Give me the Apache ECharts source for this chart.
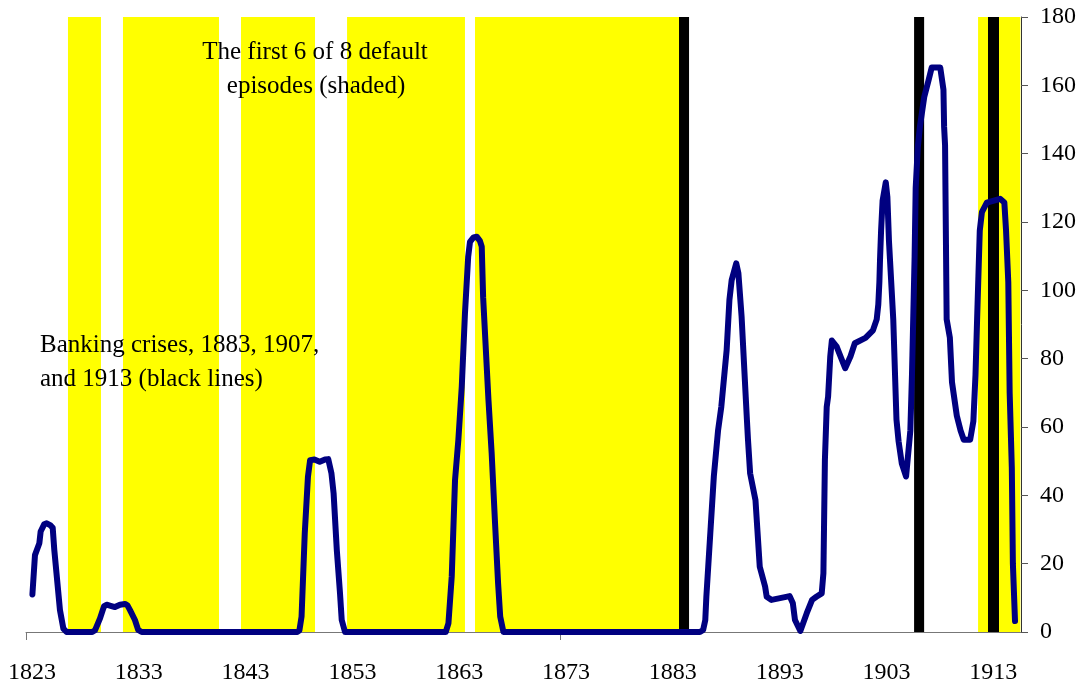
<!DOCTYPE html>
<html>
<head>
<meta charset="utf-8">
<script src="https://cdn.jsdelivr.net/npm/echarts@6/dist/echarts.min.js"></script>
<style>
html,body{margin:0;padding:0;background:#fff;}
#chart{width:1083px;height:688px;}
</style>
</head>
<body>
<div id="chart"></div>
<script>
// ---- Data ----
const xTickLabels = [1823, 1833, 1843, 1853, 1863, 1873, 1883, 1893, 1903, 1913];
const yTickValues = [0, 20, 40, 60, 80, 100, 120, 140, 160, 180];

// Default episodes (shaded yellow): start / end year
const defaultStart = [1826.93, 1832.08, 1843.13, 1853.06, 1865.04, 1912.14];
const defaultEnd   = [1830.02, 1841.07, 1850.06, 1864.10, 1884.14, 1916.10];

// Banking crises (black bars): start / end year
const crisisStart = [1884.14, 1906.15, 1913.07];
const crisisEnd   = [1885.08, 1907.09, 1914.10];

// Line series: years and values
const seriesYears = [
  1823.60,1823.84,1824.25,1824.37,1824.70,1824.94,1825.30,1825.50,1825.65,1826.18,1826.50,1826.80,
  1829.20,1829.46,1829.93,1830.30,1830.55,1831.00,1831.33,1831.80,1832.27,1832.50,1832.74,1833.20,1833.50,1833.83,
  1848.40,1848.60,1848.80,1849.10,1849.40,1849.60,1850.00,1850.50,1851.00,1851.30,1851.60,1851.80,1852.10,1852.40,1852.56,1852.87,
  1862.30,1862.55,1862.86,1863.17,1863.48,1863.80,1864.10,1864.40,1864.57,1864.90,1865.20,1865.50,1865.67,1865.80,1866.30,1866.60,1866.90,1867.20,1867.40,1867.70,
  1886.10,1886.40,1886.60,1886.70,1887.40,1887.80,1888.10,1888.60,1888.86,1889.07,1889.50,1889.70,1890.00,1890.50,1890.60,1890.80,1891.30,1891.70,1892.20,1892.35,1892.80,1893.60,1894.50,1894.80,1895.00,1895.50,
  1896.10,1896.60,1897.00,1897.50,1897.66,1897.80,1897.97,1898.10,1898.30,1898.45,1898.90,1899.70,1900.20,1900.60,1901.60,1902.30,1902.65,1902.80,1902.90,1902.96,1903.06,1903.20,1903.50,1903.65,1903.80,1904.20,1904.50,1904.70,1905.00,1905.40,
  1905.80,1905.95,1906.20,1906.30,1906.50,1906.70,1907.10,1907.50,1907.80,1908.60,1908.90,1908.96,1909.05,1909.20,1909.50,1909.70,1910.15,1910.50,1910.80,1911.40,1911.70,1911.90,1912.05,1912.30,1912.50,1912.96,
  1914.20,1914.60,1914.76,1914.97,1915.10,1915.30,1915.40,1915.60
];
const seriesValues = [
  11,22.5,26,29.4,31.5,31.8,31.2,30.5,24,6.4,1,0,
  0,0.5,4,7.5,8,7.6,7.3,8,8.2,7.8,6.4,3.5,0.6,0,
  0,0.5,4.5,28.9,45.5,50.3,50.5,49.8,50.5,50.6,46.4,40.6,24,11.3,3.5,0,
  0,2.5,16.2,44.5,56.2,71.8,93.3,109.8,114.2,115.5,115.7,114.5,112.8,98,67.9,52.3,32.8,14.3,4.5,0,
  0,0.6,3.5,10.3,45.5,59.1,65.9,82.5,97.2,103,107.9,105,92.3,62,56.2,46.4,38.6,19.1,13.3,10.3,9.4,9.9,10.5,8.4,3.5,0.3,
  5.5,9.4,10.3,11.3,17.2,50.3,65.9,68.9,80.6,85.3,83.5,77.2,80.7,84.5,86.1,88.3,91.5,95.9,102.4,108.9,117.5,126.2,131.6,127.3,114.3,91.5,62.2,55.8,49.3,45.5,
  59,75,110,130,142,148,156.6,161.4,165.2,165.2,158.7,147.9,142.5,91.5,86.1,73.1,63.3,59,56.3,56.3,61.7,75.3,91.5,117.5,122.9,125.7,
  126.8,125.7,117.5,102.4,69.9,48.2,20,3.2
];

const X_MIN = 1823, X_MAX = 1916.16, Y_MIN = 0, Y_MAX = 180;
const FONT = "'Liberation Serif', 'Times New Roman', serif";

const lineData = seriesYears.map((y, i) => [y, seriesValues[i]]);
const defaultData = defaultStart.map((s, i) => [s, defaultEnd[i]]);
const crisisData = crisisStart.map((s, i) => [s, crisisEnd[i]]);

function bandRenderer(color) {
  return function (params, api) {
    const a = api.coord([api.value(0), Y_MAX]);
    const b = api.coord([api.value(1), Y_MIN]);
    return {
      type: 'rect',
      shape: { x: a[0], y: a[1], width: b[0] - a[0], height: b[1] - a[1] },
      style: { fill: color }
    };
  };
}

const chart = echarts.init(document.getElementById('chart'), null, { renderer: 'canvas' });
chart.setOption({
  animation: false,
  backgroundColor: '#ffffff',
  grid: { left: 26, right: 62, top: 17, bottom: 56, containLabel: false },
  xAxis: [{
    type: 'value', min: X_MIN, max: X_MAX, position: 'bottom',
    axisLine: { show: true, onZero: false, lineStyle: { color: '#777777', width: 1 } },
    axisTick: { show: true, customValues: [1823, 1873], length: 8, lineStyle: { color: '#777777' } },
    axisLabel: {
      customValues: xTickLabels, color: '#000', fontFamily: FONT, fontSize: 24, margin: 29,
      padding: [0, 0, 0, 12],
      formatter: v => String(Math.round(v))
    },
    splitLine: { show: false }
  }],
  yAxis: [{
    type: 'value', min: Y_MIN, max: Y_MAX, interval: 20, position: 'right',
    axisLine: { show: true, lineStyle: { color: '#333333', width: 1 } },
    axisTick: { show: true, length: 7, inside: false, lineStyle: { color: '#555555' } },
    axisLabel: { color: '#000', fontFamily: FONT, fontSize: 24, margin: 19, formatter: v => String(v) },
    splitLine: { show: false }
  }],
  series: [
    { type: 'custom', name: 'defaults', data: defaultData, encode: { x: [0, 1] }, renderItem: bandRenderer('#FFFF00'), z: 1, silent: true, clip: true },
    { type: 'custom', name: 'crises', data: crisisData, encode: { x: [0, 1] }, renderItem: bandRenderer('#000000'), z: 2, silent: true, clip: true },
    {
      type: 'line', name: 'index', data: lineData, showSymbol: false, symbol: 'none', z: 3,
      lineStyle: { color: '#000080', width: 6, cap: 'round', join: 'round' },
      clip: false
    }
  ],
  graphic: [
    { type: 'text', x: 315, y: 52, z: 10, style: { text: 'The first 6 of 8 default', font: '25px ' + FONT, fill: '#000', align: 'center', verticalAlign: 'middle' } },
    { type: 'text', x: 316, y: 86, z: 10, style: { text: 'episodes (shaded)', font: '25px ' + FONT, fill: '#000', align: 'center', verticalAlign: 'middle' } },
    { type: 'text', x: 40, y: 345, z: 10, style: { text: 'Banking crises, 1883, 1907,', font: '25px ' + FONT, fill: '#000', align: 'left', verticalAlign: 'middle' } },
    { type: 'text', x: 40, y: 379, z: 10, style: { text: 'and 1913 (black lines)', font: '25px ' + FONT, fill: '#000', align: 'left', verticalAlign: 'middle' } }
  ]
});
</script>
</body>
</html>
